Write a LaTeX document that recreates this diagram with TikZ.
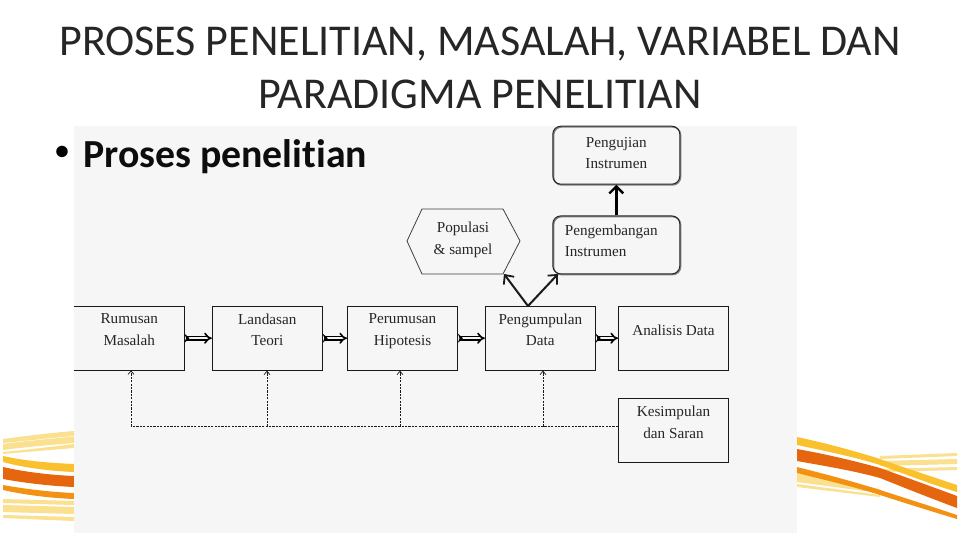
\documentclass[tikz,border=0pt]{standalone}
\usepackage{fontspec}
\usetikzlibrary{arrows.meta}
\setmainfont[Ligatures=NoCommon]{Carlito}
\newfontfamily\diagfont{Liberation Serif}
\definecolor{panel}{HTML}{F6F6F6}
\definecolor{ink}{HTML}{1A1A1A}
\definecolor{sYel}{HTML}{FBC02D}
\definecolor{sDark}{HTML}{E5660F}
\definecolor{sOr}{HTML}{F39112}
\definecolor{sPale}{HTML}{FBE08F}
\newcommand{\boxlabel}[4]{\parbox[c][#2pt][t]{#1pt}{\centering\vspace*{#3pt}#4\par}}
\tikzset{
  x=1pt,y=-1pt,
  titletext/.style={font=\fontsize{44}{53}\selectfont,text=black!85,align=center,inner sep=0},
  bullettext/.style={font=\fontsize{39.8}{40}\selectfont\bfseries,text=black!95,inner sep=0,anchor=west},
  bulletmark/.style={font=\fontsize{27}{30}\selectfont\bfseries,text=black,inner sep=0},
  nodeedge/.style={draw=ink,line width=0.9pt},
  boxtext/.style={inner sep=0,font=\diagfont\fontsize{15.2}{21.5}\selectfont,text=black!85},
  boxstyle/.style={boxtext,nodeedge},
  roundstyle/.style={boxstyle,rounded corners=8pt,line width=1pt,draw=black!85,
    preaction={draw=black!50,line width=1.4pt,transform canvas={shift={(0.8pt,-0.8pt)}}}},
  flowarrow/.style={draw=black,line width=1.6pt,double=panel,double distance=2pt,
    {Stealth[reversed,length=5pt,width=9pt]}-{Implies[]}},
  thickarrow/.style={draw=ink,line width=2pt,-{Straight Barb[length=7pt,width=13pt,line width=1.8pt]}},
  bigarrow/.style={draw=black,line width=2.6pt,-{Straight Barb[length=7pt,width=14pt,line width=2.4pt]}},
  dashline/.style={draw=ink,line width=0.8pt,dash pattern=on 2.2pt off 1.2pt},
  dasharrow/.style={dashline,-{Straight Barb[length=3.5pt,width=6pt,line width=0.7pt]}},
}
\begin{document}
\begin{tikzpicture}
\useasboundingbox (0,0) rectangle (960,540);
\fill[white] (0,0) rectangle (960,540);
% left stripes
\fill[sPale] (3,439) .. controls (25,436) and (50,433) .. (74,431) -- (74,436) .. controls (50,438) and (25,441) .. (3,443) -- cycle;
\fill[sPale] (3,444) .. controls (25,441) and (50,439) .. (74,436.5) -- (74,443) .. controls (50,445) and (25,447) .. (3,450) -- cycle;
\fill[sPale] (3,452) .. controls (25,450) and (50,447) .. (74,444) -- (74,448) .. controls (50,450) and (25,452) .. (3,454) -- cycle;
\fill[sYel] (3,456) .. controls (25,461) and (50,463) .. (74,464) -- (74,472) .. controls (50,471) and (25,468) .. (3,462) -- cycle;
\fill[sDark] (3,467) .. controls (25,472) and (50,475) .. (74,476) -- (74,487) .. controls (50,486) and (25,483) .. (3,479) -- cycle;
\fill[sOr] (3,485) .. controls (25,489) and (50,492) .. (74,493) -- (74,499) .. controls (50,498) and (25,495) .. (3,490) -- cycle;
\fill[sPale] (3,499) -- (74,501) -- (74,505) -- (3,503) -- cycle;
\fill[sPale] (3,505) -- (74,507) -- (74,514) -- (3,512) -- cycle;
\fill[sPale] (3,515) -- (74,517) -- (74,521) -- (3,518) -- cycle;
% right stripes
\fill[sPale] (880,456) -- (957,453) -- (957,456) -- (880,459) -- cycle;
\fill[sPale] (880,461) -- (957,459) -- (957,464) -- (880,466) -- cycle;
\fill[sPale] (880,469) -- (957,467) -- (957,470) -- (880,472) -- cycle;
\fill[sPale] (797,473) -- (880,489) -- (880,493) -- (797,482) -- cycle;
\fill[sPale] (797,484) -- (880,495) -- (880,497) -- (797,487) -- cycle;
\fill[sYel] (797,437) .. controls (825,443) and (855,451) .. (880,459) .. controls (905,468) and (930,476) .. (957,485) -- (957,492) .. controls (930,484) and (905,474) .. (880,465) .. controls (855,457) and (825,451) .. (797,445) -- cycle;
\fill[sDark] (797,449) .. controls (825,454) and (855,461) .. (880,468) .. controls (905,477) and (930,486) .. (957,496) -- (957,508) .. controls (930,498) and (905,488) .. (880,478) .. controls (855,471) and (825,466) .. (797,461) -- cycle;
\fill[sOr] (797,467) .. controls (825,474) and (855,482) .. (880,490) .. controls (905,498) and (930,506) .. (957,515) -- (957,519) .. controls (930,511) and (905,503) .. (880,495) .. controls (855,487) and (825,480) .. (797,473) -- cycle;
% panel
\fill[panel] (74,126) rectangle (797,533);
% title
\node[titletext] (title) at (480,68) {PROSES PENELITIAN, MASALAH, VARIABEL DAN\\PARADIGMA PENELITIAN};
\node[bulletmark] (bul) at (62,153) {•};
\node[bullettext] (head) at (83,156.5) {Proses penelitian};
% boxes
\node[boxtext] (rum) at (129.3,338.2) {\boxlabel{110}{64}{7.5}{Rumusan\\Masalah}};
\draw[nodeedge] (rum.north west) -- (rum.north east) -- (rum.south east) -- (rum.south west);
\node[boxstyle] (lan) at (267.3,338.2) {\boxlabel{110}{64}{7.5}{Landasan\\Teori}};
\node[boxstyle] (hip) at (402.5,338.2) {\boxlabel{110}{64}{7.5}{Perumusan\\Hipotesis}};
\node[boxstyle] (kum) at (540.3,338.2) {\boxlabel{110}{64}{7.5}{Pengumpulan\\Data}};
\node[boxstyle] (ana) at (673.5,338.2) {\boxlabel{110}{64}{19}{Analisis Data}};
\node[boxstyle] (kes) at (673.5,430.5) {\boxlabel{110}{64}{7.5}{Kesimpulan\\dan Saran}};
\node[roundstyle] (uji) at (616.3,155.2) {\boxlabel{127}{58}{11}{Pengujian\\Instrumen}};
\node[roundstyle] (kem) at (616.3,244.9) {\boxlabel{127}{58}{9}{\raggedright\hspace*{12pt}Pengembangan\\\hspace*{12pt}Instrumen}};
% hexagon
\draw[draw=black!75,line width=0.8pt] (422,209) -- (503,209) -- (520,241) -- (503,274) -- (422,274) -- (407,241) -- cycle;
\node[inner sep=0,font=\diagfont\fontsize{15.2}{21.5}\selectfont,text=black!85,align=center] (pop) at (463,240) {Populasi\\\& sampel};
% coordinates
\coordinate (hub) at (528,306);
\coordinate (hexport) at (504,274);
\coordinate (kemport) at (558,274);
\coordinate (b1) at (131,426.5);
\coordinate (b2) at (267,426.5);
\coordinate (b3) at (400,426.5);
\coordinate (b4) at (543,426.5);
% connectors
\draw[flowarrow] (rum.east) -- (lan.west);
\draw[flowarrow] (lan.east) -- (hip.west);
\draw[flowarrow] (hip.east) -- (kum.west);
\draw[flowarrow] (kum.east) -- (ana.west);
\draw[bigarrow] (kem.north) -- (uji.south);
\draw[thickarrow] (hub) -- (hexport);
\draw[thickarrow] (hub) -- (kemport);
\draw[dashline] (kes.west |- b1) -- (b1);
\draw[dasharrow] (b1) -- (b1 |- rum.south);
\draw[dasharrow] (b2) -- (b2 |- lan.south);
\draw[dasharrow] (b3) -- (b3 |- hip.south);
\draw[dasharrow] (b4) -- (b4 |- kum.south);
\end{tikzpicture}
\end{document}
